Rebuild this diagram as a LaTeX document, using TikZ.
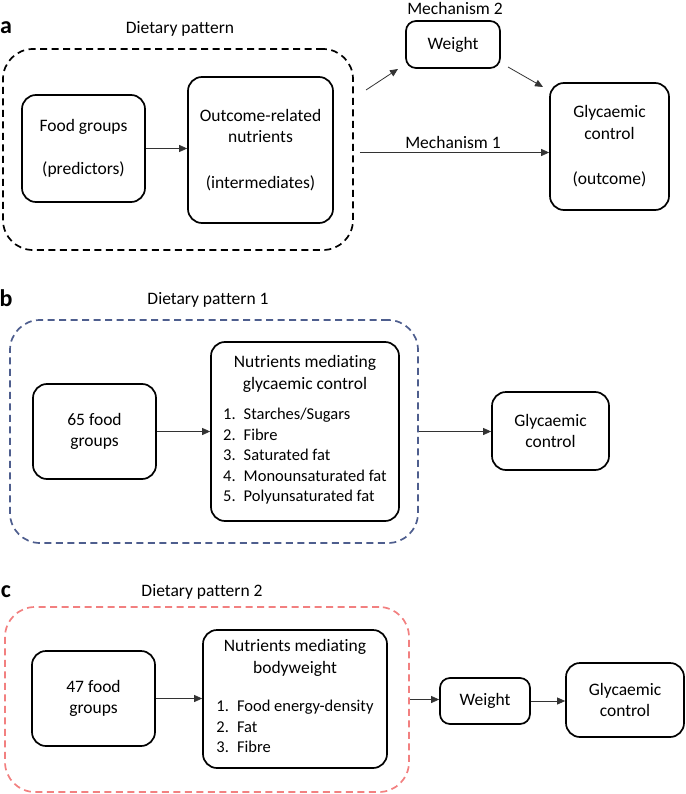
\documentclass[tikz,border=0pt]{standalone}
\usepackage{fontspec}
\setmainfont{Carlito}[Ligatures=NoCommon]
\usetikzlibrary{arrows.meta}

\definecolor{grpblue}{RGB}{78,94,142}
\definecolor{grpred}{RGB}{242,128,128}

\tikzset{
  box/.style={draw, line width=1.7pt, rounded corners=14pt, align=center, inner sep=2pt,
    font=\fontsize{17.5}{21.5}\selectfont},
  grp/.style={draw, line width=1.7pt, rounded corners=30pt, dash pattern=on 7pt off 4.5pt},
  lbl/.style={font=\fontsize{17.5}{21.5}\selectfont},
  panel/.style={inner sep=0pt, font=\bfseries\fontsize{24}{24}\selectfont},
  arr/.style={-{Triangle[length=8pt,width=7pt]}, line width=0.8pt, draw=black!80},
}
\newcommand{\lst}{\fontsize{16.5}{20.5}\selectfont}

\begin{document}
\begin{tikzpicture}[x=1pt, y=-1pt]
  %tikz  dietary pattern, mediation paths
  \useasboundingbox (0,0) rectangle (685,794);

  % panel a
  \node[panel] (pa) at (6,28) {a};
  \node[lbl] (ta) at (180,29) {Dietary pattern};
  \node[grp, minimum width=350pt, minimum height=201pt] (dpa) at (178,149.5) {};
  \node[box, minimum width=123pt, minimum height=107pt] (fga) at (83.5,148.5)
    {Food groups\\[21.5pt](predictors)};
  \node[box, minimum width=145pt, minimum height=146pt] (outa) at (260.5,150)
    {Outcome-related\\nutrients\\[24pt](intermediates)};
  \node[lbl] (m2) at (455,8) {Mechanism 2};
  \node[box, rounded corners=10pt, minimum width=94pt, minimum height=47pt] (wta) at (453,44.5) {Weight};
  \node[box, minimum width=119pt, minimum height=127pt] (glya) at (609.5,146.5)
    {Glycaemic\\control\\[24pt](outcome)};
  \node[lbl] (m1) at (453,142) {Mechanism 1};

  \coordinate (m2a) at (366,90);
  \coordinate (m2b) at (398,69);
  \coordinate (m2c) at (508,67);
  \coordinate (m2d) at (543,87);

  \draw[arr] (fga.east) -- (fga.east -| outa.west);
  \draw[arr] (m2a) -- (m2b);
  \draw[arr] (m2c) -- (m2d);
  \draw[arr] ([xshift=6pt,yshift=-3pt]dpa.east) -- ([yshift=-6pt]glya.west);

  % panel b
  \node[panel] (pb) at (6,298) {b};
  \node[lbl] (tb) at (208,300) {Dietary pattern 1};
  \node[grp, draw=grpblue, minimum width=408pt, minimum height=223pt] (dpb) at (214,431.5) {};
  \node[box, minimum width=123pt, minimum height=95pt] (fgb) at (94.5,431.5) {65 food\\groups};
  \node[box, minimum width=188pt, minimum height=179pt] (nutb) at (305,431.5)
    {Nutrients mediating\\glycaemic control\\[9pt]
     {\lst\begin{tabular}[t]{@{}l@{\hspace{8pt}}l@{}}
       1.&Starches/Sugars\\
       2.&Fibre\\
       3.&Saturated fat\\
       4.&Monounsaturated fat\\
       5.&Polyunsaturated fat
     \end{tabular}}};
  \node[box, minimum width=117pt, minimum height=78pt] (glyb) at (550.5,431) {Glycaemic\\control};

  \draw[arr] (fgb.east) -- (fgb.east -| nutb.west);
  \draw[arr] (dpb.east) -- (dpb.east -| glyb.west);

  % panel c
  \node[panel] (pc) at (6,592) {c};
  \node[lbl] (tc) at (202,592) {Dietary pattern 2};
  \node[grp, draw=grpred, minimum width=404pt, minimum height=185pt] (dpc) at (207,699.5) {};
  \node[box, minimum width=123pt, minimum height=95pt] (fgc) at (93.5,698.5) {47 food\\groups};
  \node[box, minimum width=184pt, minimum height=138pt] (nutc) at (295,699)
    {Nutrients mediating\\bodyweight\\[17pt]
     {\lst\begin{tabular}[t]{@{}l@{\hspace{8pt}}l@{}}
       1.&Food energy-density\\
       2.&Fat\\
       3.&Fibre
     \end{tabular}}};
  \node[box, rounded corners=10pt, minimum width=90pt, minimum height=46pt] (wtc) at (485,701) {Weight};
  \node[box, minimum width=118pt, minimum height=74pt] (glyc) at (625,700) {Glycaemic\\control};

  \draw[arr] (fgc.east) -- (fgc.east -| nutc.west);
  \draw[arr] (dpc.east) -- (dpc.east -| wtc.west);
  \draw[arr] (wtc.east) -- (wtc.east -| glyc.west);

\end{tikzpicture}
\end{document}
